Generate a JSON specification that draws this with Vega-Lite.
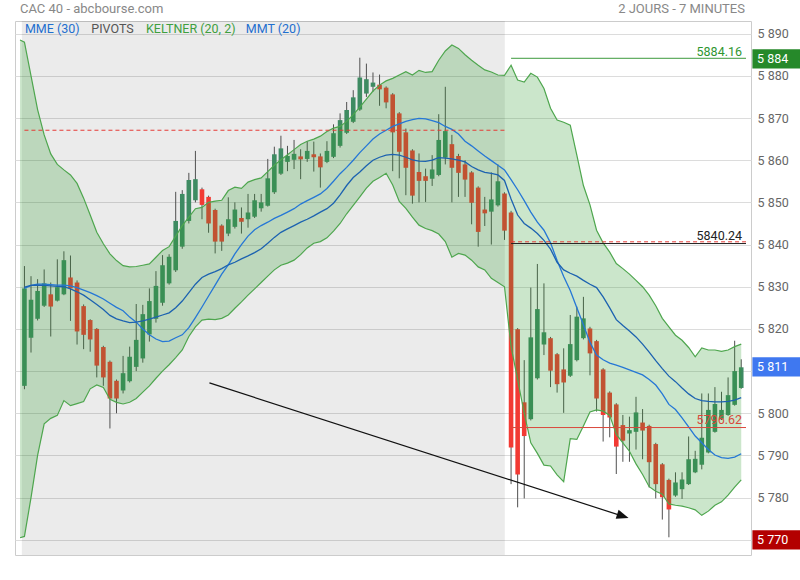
{
"$schema":"https://vega.github.io/schema/vega-lite/v6.json",
"width":736,"height":534,
"autosize":{"type":"none"},
"padding":{"left":15,"top":21,"right":49,"bottom":25},
"background":"white",
"config":{"view":{"stroke":"#cccccc"},"font":"Roboto","text":{"font":"Roboto"}},
"datasets":{"k":[
{"i":-0.67,"u":5888.5,"b":5770.5},
{"i":0,"o":5806.5,"h":5834.9,"l":5805.7,"c":5829.6,"u":5888.0,"b":5770.8,"p":5829.6,"q":5829.9},
{"i":1,"o":5817.9,"h":5832.5,"l":5814.4,"c":5826.9,"u":5880.0,"b":5780.0,"p":5830.3,"q":5830.3},
{"i":2,"o":5822.4,"h":5831.8,"l":5822.0,"c":5829.0,"u":5872.0,"b":5790.0,"p":5830.6,"q":5830.4},
{"i":3,"o":5825.5,"h":5834.1,"l":5825.2,"c":5830.8,"u":5866.0,"b":5797.5,"p":5830.6,"q":5830.3},
{"i":4,"o":5828.2,"h":5831.0,"l":5818.2,"c":5825.3,"u":5861.5,"b":5798.8,"p":5830.5,"q":5830.2},
{"i":5,"o":5826.7,"h":5836.5,"l":5826.5,"c":5829.9,"u":5859.0,"b":5799.5,"p":5830.4,"q":5830.1},
{"i":6,"o":5828.2,"h":5838.4,"l":5828.0,"c":5836.3,"u":5857.7,"b":5803.0,"p":5830.4,"q":5830.0},
{"i":7,"o":5832.2,"h":5837.4,"l":5821.9,"c":5829.6,"u":5856.5,"b":5801.8,"p":5830.2,"q":5829.5},
{"i":8,"o":5831.0,"h":5831.5,"l":5816.3,"c":5819.4,"u":5854.5,"b":5802.3,"p":5829.8,"q":5828.8},
{"i":9,"o":5825.4,"h":5825.8,"l":5815.2,"c":5818.6,"u":5851.0,"b":5802.8,"p":5829.2,"q":5828.0},
{"i":10,"o":5822.1,"h":5822.3,"l":5814.6,"c":5817.5,"u":5847.0,"b":5805.8,"p":5828.6,"q":5826.9},
{"i":11,"o":5820.0,"h":5820.2,"l":5808.5,"c":5811.3,"u":5842.9,"b":5806.7,"p":5827.9,"q":5825.8},
{"i":12,"o":5815.7,"h":5816.0,"l":5806.5,"c":5808.5,"u":5840.2,"b":5806.1,"p":5827.1,"q":5824.6},
{"i":13,"o":5812.2,"h":5812.5,"l":5796.4,"c":5803.5,"u":5837.8,"b":5803.3,"p":5826.1,"q":5823.2},
{"i":14,"o":5807.7,"h":5808.0,"l":5800.0,"c":5803.5,"u":5836.2,"b":5802.6,"p":5825.1,"q":5822.4},
{"i":15,"o":5805.4,"h":5813.6,"l":5804.7,"c":5809.5,"u":5835.0,"b":5802.2,"p":5824.3,"q":5821.9},
{"i":16,"o":5807.6,"h":5815.8,"l":5807.3,"c":5813.4,"u":5834.7,"b":5802.6,"p":5822.8,"q":5821.5},
{"i":17,"o":5811.0,"h":5825.9,"l":5810.0,"c":5817.4,"u":5834.8,"b":5803.5,"p":5821.6,"q":5821.6},
{"i":18,"o":5813.0,"h":5825.7,"l":5812.0,"c":5823.5,"u":5835.1,"b":5805.0,"p":5820.0,"q":5821.9},
{"i":19,"o":5818.7,"h":5829.6,"l":5817.0,"c":5826.6,"u":5835.4,"b":5806.5,"p":5818.6,"q":5822.3},
{"i":20,"o":5822.4,"h":5833.7,"l":5821.5,"c":5830.2,"u":5837.0,"b":5808.3,"p":5817.6,"q":5822.8},
{"i":21,"o":5826.2,"h":5837.5,"l":5825.5,"c":5835.1,"u":5838.6,"b":5810.0,"p":5817.0,"q":5823.3},
{"i":22,"o":5830.8,"h":5837.7,"l":5830.5,"c":5837.1,"u":5839.5,"b":5811.5,"p":5817.1,"q":5823.8},
{"i":23,"o":5833.9,"h":5852.5,"l":5833.5,"c":5845.6,"u":5842.0,"b":5813.2,"p":5817.9,"q":5825.0},
{"i":24,"o":5839.5,"h":5852.9,"l":5839.0,"c":5852.0,"u":5844.5,"b":5815.0,"p":5818.6,"q":5826.6},
{"i":25,"o":5845.6,"h":5857.0,"l":5845.0,"c":5855.3,"u":5846.5,"b":5818.2,"p":5820.3,"q":5828.6},
{"i":26,"o":5850.5,"h":5862.2,"l":5850.0,"c":5855.5,"u":5848.5,"b":5820.5,"p":5822.7,"q":5830.6},
{"i":27,"o":5853.1,"h":5853.5,"l":5846.0,"c":5849.4,"u":5848.8,"b":5822.1,"p":5825.2,"q":5832.2},
{"i":28,"o":5851.3,"h":5851.6,"l":5842.8,"c":5845.0,"u":5850.0,"b":5822.3,"p":5827.8,"q":5833.0},
{"i":29,"o":5848.2,"h":5848.5,"l":5837.9,"c":5840.7,"u":5850.3,"b":5822.2,"p":5830.4,"q":5833.6},
{"i":30,"o":5844.5,"h":5844.8,"l":5838.5,"c":5840.7,"u":5850.5,"b":5822.5,"p":5833.0,"q":5834.3},
{"i":31,"o":5842.6,"h":5851.2,"l":5842.0,"c":5846.0,"u":5852.8,"b":5823.3,"p":5835.2,"q":5835.2},
{"i":32,"o":5844.2,"h":5850.0,"l":5843.8,"c":5848.3,"u":5853.6,"b":5824.9,"p":5837.8,"q":5835.8},
{"i":33,"o":5846.3,"h":5848.8,"l":5842.6,"c":5845.4,"u":5853.3,"b":5826.4,"p":5840.0,"q":5836.6},
{"i":34,"o":5846.0,"h":5852.0,"l":5844.0,"c":5847.6,"u":5854.8,"b":5828.0,"p":5842.0,"q":5837.3},
{"i":35,"o":5846.6,"h":5852.0,"l":5846.3,"c":5850.5,"u":5855.4,"b":5829.5,"p":5843.5,"q":5838.1},
{"i":36,"o":5848.6,"h":5852.0,"l":5847.8,"c":5850.0,"u":5855.8,"b":5831.0,"p":5844.5,"q":5839.0},
{"i":37,"o":5849.2,"h":5860.3,"l":5849.0,"c":5855.7,"u":5857.3,"b":5832.5,"p":5845.3,"q":5840.3},
{"i":38,"o":5852.4,"h":5863.2,"l":5852.0,"c":5861.4,"u":5858.8,"b":5834.0,"p":5846.2,"q":5841.7},
{"i":39,"o":5856.8,"h":5865.8,"l":5856.5,"c":5862.8,"u":5860.1,"b":5835.1,"p":5846.9,"q":5842.9},
{"i":40,"o":5859.6,"h":5863.4,"l":5857.4,"c":5861.0,"u":5861.3,"b":5835.6,"p":5847.7,"q":5843.7},
{"i":41,"o":5860.1,"h":5864.8,"l":5857.9,"c":5861.5,"u":5862.5,"b":5836.3,"p":5848.5,"q":5844.5},
{"i":42,"o":5860.9,"h":5862.6,"l":5855.5,"c":5860.2,"u":5863.7,"b":5837.6,"p":5849.6,"q":5845.3},
{"i":43,"o":5860.3,"h":5864.5,"l":5859.6,"c":5862.2,"u":5864.5,"b":5839.2,"p":5850.4,"q":5846.0},
{"i":44,"o":5861.4,"h":5864.4,"l":5857.3,"c":5860.7,"u":5865.0,"b":5840.3,"p":5851.2,"q":5846.8},
{"i":45,"o":5860.9,"h":5861.6,"l":5853.5,"c":5858.3,"u":5865.7,"b":5840.7,"p":5852.0,"q":5847.7},
{"i":46,"o":5859.6,"h":5864.5,"l":5859.3,"c":5862.2,"u":5866.8,"b":5841.6,"p":5853.3,"q":5848.5},
{"i":47,"o":5860.8,"h":5868.5,"l":5860.5,"c":5866.4,"u":5867.6,"b":5843.2,"p":5855.0,"q":5849.8},
{"i":48,"o":5863.4,"h":5871.1,"l":5863.0,"c":5869.5,"u":5868.0,"b":5845.0,"p":5856.8,"q":5851.8},
{"i":49,"o":5866.5,"h":5873.8,"l":5866.2,"c":5871.9,"u":5869.2,"b":5847.3,"p":5858.3,"q":5854.0},
{"i":50,"o":5869.1,"h":5876.6,"l":5868.8,"c":5874.9,"u":5870.8,"b":5849.3,"p":5860.0,"q":5855.9},
{"i":51,"o":5872.0,"h":5884.3,"l":5871.7,"c":5879.6,"u":5872.6,"b":5851.3,"p":5861.8,"q":5857.2},
{"i":52,"o":5875.8,"h":5882.9,"l":5875.0,"c":5879.2,"u":5874.5,"b":5853.4,"p":5863.4,"q":5858.7},
{"i":53,"o":5877.4,"h":5880.8,"l":5876.2,"c":5878.4,"u":5876.4,"b":5855.0,"p":5865.0,"q":5860.0},
{"i":54,"o":5877.9,"h":5880.3,"l":5872.9,"c":5876.8,"u":5877.8,"b":5855.9,"p":5866.2,"q":5860.7},
{"i":55,"o":5877.2,"h":5877.5,"l":5872.3,"c":5873.7,"u":5878.8,"b":5856.9,"p":5867.1,"q":5861.2},
{"i":56,"o":5875.6,"h":5875.9,"l":5857.4,"c":5866.6,"u":5879.4,"b":5854.1,"p":5868.0,"q":5861.4},
{"i":57,"o":5871.1,"h":5871.4,"l":5855.7,"c":5862.0,"u":5880.2,"b":5850.2,"p":5868.6,"q":5861.2},
{"i":58,"o":5866.6,"h":5867.5,"l":5851.7,"c":5858.2,"u":5881.0,"b":5848.6,"p":5869.2,"q":5860.7},
{"i":59,"o":5862.3,"h":5862.6,"l":5849.7,"c":5851.6,"u":5880.2,"b":5846.5,"p":5869.6,"q":5860.1},
{"i":60,"o":5857.2,"h":5861.6,"l":5850.0,"c":5855.1,"u":5881.3,"b":5844.6,"p":5869.9,"q":5859.8},
{"i":61,"o":5856.2,"h":5858.0,"l":5850.1,"c":5855.1,"u":5880.8,"b":5843.8,"p":5869.8,"q":5859.7},
{"i":62,"o":5855.6,"h":5861.2,"l":5853.9,"c":5857.8,"u":5881.0,"b":5843.3,"p":5869.4,"q":5860.0},
{"i":63,"o":5856.5,"h":5870.9,"l":5856.2,"c":5864.8,"u":5883.7,"b":5842.5,"p":5868.9,"q":5860.6},
{"i":64,"o":5860.6,"h":5877.4,"l":5859.0,"c":5866.9,"u":5885.9,"b":5840.7,"p":5868.0,"q":5860.5},
{"i":65,"o":5863.8,"h":5866.0,"l":5850.0,"c":5858.2,"u":5887.3,"b":5837.0,"p":5867.3,"q":5860.3},
{"i":66,"o":5861.0,"h":5861.5,"l":5851.3,"c":5857.0,"u":5886.5,"b":5837.9,"p":5866.2,"q":5860.0},
{"i":67,"o":5859.0,"h":5860.0,"l":5851.3,"c":5855.4,"u":5885.0,"b":5837.5,"p":5864.5,"q":5859.6},
{"i":68,"o":5857.1,"h":5857.4,"l":5844.8,"c":5849.9,"u":5883.7,"b":5836.3,"p":5863.4,"q":5858.5},
{"i":69,"o":5853.5,"h":5853.8,"l":5839.5,"c":5843.0,"u":5882.5,"b":5834.7,"p":5862.2,"q":5857.7},
{"i":70,"o":5848.3,"h":5851.3,"l":5844.4,"c":5847.4,"u":5881.4,"b":5834.0,"p":5861.0,"q":5857.1},
{"i":71,"o":5847.8,"h":5857.1,"l":5840.0,"c":5850.7,"u":5880.9,"b":5832.0,"p":5859.9,"q":5856.9},
{"i":72,"o":5849.3,"h":5859.0,"l":5849.0,"c":5855.0,"u":5880.2,"b":5831.0,"p":5858.8,"q":5856.5},
{"i":73,"o":5852.1,"h":5852.4,"l":5841.1,"c":5843.3,"u":5880.1,"b":5830.0,"p":5857.7,"q":5855.2},
{"i":74,"o":5847.6,"h":5848.0,"l":5783.2,"c":5791.9,"u":5882.5,"b":5815.8,"p":5855.4,"q":5850.8},
{"i":75,"o":5819.9,"h":5820.2,"l":5777.7,"c":5785.5,"u":5879.0,"b":5808.0,"p":5853.0,"q":5847.0},
{"i":76,"o":5802.6,"h":5812.6,"l":5779.8,"c":5794.6,"u":5878.5,"b":5800.0,"p":5850.4,"q":5845.0},
{"i":77,"o":5798.6,"h":5829.8,"l":5798.3,"c":5818.0,"u":5880.6,"b":5793.0,"p":5847.7,"q":5843.9},
{"i":78,"o":5808.3,"h":5835.4,"l":5808.0,"c":5824.7,"u":5879.7,"b":5790.5,"p":5845.3,"q":5842.6},
{"i":79,"o":5816.3,"h":5830.8,"l":5813.8,"c":5819.2,"u":5877.0,"b":5787.7,"p":5843.4,"q":5841.0},
{"i":80,"o":5817.8,"h":5818.1,"l":5806.2,"c":5810.1,"u":5872.3,"b":5787.5,"p":5840.4,"q":5838.9},
{"i":81,"o":5814.0,"h":5814.3,"l":5804.9,"c":5806.9,"u":5869.5,"b":5785.4,"p":5836.2,"q":5835.8},
{"i":82,"o":5810.4,"h":5815.4,"l":5800.1,"c":5807.3,"u":5869.0,"b":5783.8,"p":5832.4,"q":5834.0},
{"i":83,"o":5808.9,"h":5823.3,"l":5808.6,"c":5816.4,"u":5868.3,"b":5794.0,"p":5829.1,"q":5833.2},
{"i":84,"o":5812.6,"h":5825.3,"l":5812.3,"c":5822.9,"u":5861.2,"b":5793.8,"p":5825.0,"q":5832.5},
{"i":85,"o":5817.8,"h":5827.6,"l":5817.5,"c":5822.5,"u":5854.0,"b":5797.0,"p":5821.0,"q":5831.5},
{"i":86,"o":5820.1,"h":5820.5,"l":5809.0,"c":5814.2,"u":5849.4,"b":5800.3,"p":5816.8,"q":5830.6},
{"i":87,"o":5817.1,"h":5817.4,"l":5800.4,"c":5803.5,"u":5843.4,"b":5800.8,"p":5813.8,"q":5829.8},
{"i":88,"o":5810.4,"h":5810.7,"l":5793.3,"c":5799.6,"u":5840.4,"b":5800.5,"p":5812.7,"q":5827.6},
{"i":89,"o":5804.9,"h":5805.2,"l":5794.3,"c":5799.0,"u":5838.2,"b":5799.5,"p":5811.9,"q":5825.0},
{"i":90,"o":5802.1,"h":5802.4,"l":5785.6,"c":5792.1,"u":5835.5,"b":5795.0,"p":5811.4,"q":5822.2},
{"i":91,"o":5797.2,"h":5799.6,"l":5788.5,"c":5793.5,"u":5834.3,"b":5793.0,"p":5810.9,"q":5820.8},
{"i":92,"o":5795.2,"h":5799.2,"l":5788.5,"c":5796.0,"u":5833.0,"b":5791.0,"p":5810.3,"q":5819.5},
{"i":93,"o":5795.6,"h":5803.9,"l":5791.4,"c":5800.2,"u":5831.5,"b":5788.0,"p":5809.7,"q":5818.1},
{"i":94,"o":5797.8,"h":5801.0,"l":5789.1,"c":5795.9,"u":5830.0,"b":5785.5,"p":5809.1,"q":5816.4},
{"i":95,"o":5797.0,"h":5797.3,"l":5782.4,"c":5788.4,"u":5828.0,"b":5782.6,"p":5808.0,"q":5814.5},
{"i":96,"o":5792.7,"h":5793.0,"l":5779.8,"c":5783.2,"u":5825.5,"b":5781.5,"p":5806.7,"q":5812.5},
{"i":97,"o":5787.9,"h":5788.2,"l":5774.8,"c":5780.1,"u":5822.5,"b":5780.8,"p":5804.6,"q":5810.6},
{"i":98,"o":5784.2,"h":5784.5,"l":5770.6,"c":5777.2,"u":5820.5,"b":5778.5,"p":5802.1,"q":5808.8},
{"i":99,"o":5780.5,"h":5786.0,"l":5780.2,"c":5783.6,"u":5818.5,"b":5778.2,"p":5800.9,"q":5807.5},
{"i":100,"o":5782.0,"h":5786.0,"l":5779.7,"c":5784.3,"u":5817.3,"b":5778.0,"p":5798.9,"q":5806.0},
{"i":101,"o":5783.2,"h":5794.5,"l":5783.0,"c":5789.1,"u":5815.6,"b":5777.6,"p":5796.8,"q":5804.6},
{"i":102,"o":5786.0,"h":5791.1,"l":5785.8,"c":5789.2,"u":5813.4,"b":5777.1,"p":5794.6,"q":5803.5},
{"i":103,"o":5787.8,"h":5804.7,"l":5786.7,"c":5794.2,"u":5815.5,"b":5775.8,"p":5793.0,"q":5803.0},
{"i":104,"o":5790.7,"h":5804.7,"l":5790.5,"c":5800.8,"u":5815.0,"b":5776.8,"p":5791.4,"q":5802.8},
{"i":105,"o":5795.6,"h":5806.2,"l":5795.4,"c":5802.2,"u":5815.0,"b":5778.2,"p":5790.1,"q":5802.7},
{"i":106,"o":5798.6,"h":5805.1,"l":5798.4,"c":5800.8,"u":5814.7,"b":5779.0,"p":5789.5,"q":5802.7},
{"i":107,"o":5799.6,"h":5808.5,"l":5799.4,"c":5804.3,"u":5815.0,"b":5780.6,"p":5789.3,"q":5802.8},
{"i":108,"o":5802.0,"h":5817.2,"l":5801.8,"c":5810.0,"u":5815.8,"b":5782.5,"p":5789.6,"q":5803.1},
{"i":109,"o":5806.0,"h":5812.8,"l":5805.8,"c":5810.9,"u":5816.4,"b":5784.2,"p":5790.4,"q":5803.7}
]},
"layer":[
{"data":{"values":[{}]},"mark":{"type":"rect","fill":"#000000","fillOpacity":0.078},
 "encoding":{"x":{"datum":-0.4,"type":"quantitative","scale":{"domain":[-0.675,109.725],"nice":false,"zero":false},"axis":null},"x2":{"datum":73.05}}},
{"data":{"name":"k"},"mark":{"type":"rule","color":"#505050","strokeWidth":1},
 "encoding":{
  "x":{"field":"i","type":"quantitative","title":null,"scale":{"domain":[-0.675,109.725],"nice":false,"zero":false},
   "axis":{"values":[12,24,36,48,60,72,84,96,108],"labelExpr":"['10:24','11:48','13:12','14:36','16:00','17:24','10:10','11:34','12:58'][round(datum.value/12)-1]","grid":true,"gridColor":"#dcdcdc","ticks":false,"domain":false,"labelFont":"Roboto","labelFontSize":12,"labelColor":"#666666","labelPadding":9,"labelOffset":-2,"title":null}},
  "y":{"field":"l","type":"quantitative","title":null,"scale":{"domain":[5766.4,5893.0],"nice":false,"zero":false},
   "axis":{"orient":"right","values":[5770,5780,5790,5800,5810,5820,5830,5840,5850,5860,5870,5880,5890],"labelExpr":"(datum.value == 5810 || datum.value == 5770) ? '' : replace(format(datum.value, ','), ',', ' ')","grid":true,"gridColor":"#dcdcdc","ticks":false,"domain":false,"labelFont":"Roboto","labelFontSize":12.5,"labelColor":"#666666","labelPadding":6,"labelAlign":"left","title":null}},
  "y2":{"field":"h"}}},
{"data":{"name":"k"},"mark":{"type":"bar","width":4.6},
 "encoding":{
  "x":{"field":"i","type":"quantitative","title":null,"scale":{"domain":[-0.675,109.725],"nice":false,"zero":false}},
  "y":{"field":"o","type":"quantitative","title":null,"scale":{"domain":[5766.4,5893.0],"nice":false,"zero":false}},
  "y2":{"field":"c"},
  "color":{"condition":{"test":"datum.c >= datum.o","value":"#3e8b62"},"value":"#f23a33"}}},
{"data":{"name":"k"},"mark":{"type":"area","color":"#2e9a2e","opacity":0.25},
 "encoding":{
  "x":{"field":"i","type":"quantitative","title":null,"scale":{"domain":[-0.675,109.725],"nice":false,"zero":false}},
  "y":{"field":"u","type":"quantitative","title":null,"scale":{"domain":[5766.4,5893.0],"nice":false,"zero":false}},
  "y2":{"field":"b"}}},
{"data":{"name":"k"},"mark":{"type":"line","color":"#4ea64e","strokeWidth":1.2},
 "encoding":{
  "x":{"field":"i","type":"quantitative","title":null,"scale":{"domain":[-0.675,109.725],"nice":false,"zero":false}},
  "y":{"field":"u","type":"quantitative","title":null,"scale":{"domain":[5766.4,5893.0],"nice":false,"zero":false}}}},
{"data":{"name":"k"},"mark":{"type":"line","color":"#4ea64e","strokeWidth":1.2},
 "encoding":{
  "x":{"field":"i","type":"quantitative","title":null,"scale":{"domain":[-0.675,109.725],"nice":false,"zero":false}},
  "y":{"field":"b","type":"quantitative","title":null,"scale":{"domain":[5766.4,5893.0],"nice":false,"zero":false}}}},
{"data":{"name":"k"},"mark":{"type":"line","color":"#2577d6","strokeWidth":1.3},
 "encoding":{
  "x":{"field":"i","type":"quantitative","title":null,"scale":{"domain":[-0.675,109.725],"nice":false,"zero":false}},
  "y":{"field":"p","type":"quantitative","title":null,"scale":{"domain":[5766.4,5893.0],"nice":false,"zero":false}}}},
{"data":{"name":"k"},"mark":{"type":"line","color":"#1c62b0","strokeWidth":1.3},
 "encoding":{
  "x":{"field":"i","type":"quantitative","title":null,"scale":{"domain":[-0.675,109.725],"nice":false,"zero":false}},
  "y":{"field":"q","type":"quantitative","title":null,"scale":{"domain":[5766.4,5893.0],"nice":false,"zero":false}}}},
{"data":{"values":[{}]},"mark":{"type":"rule","color":"#e53935","strokeWidth":1,"strokeDash":[4,3]},
 "encoding":{"x":{"datum":0,"type":"quantitative"},"x2":{"datum":73.05},"y":{"datum":5867.1,"type":"quantitative"}}},
{"data":{"values":[{}]},"mark":{"type":"rule","color":"#e53935","strokeWidth":1,"strokeDash":[4,3]},
 "encoding":{"x":{"datum":74,"type":"quantitative"},"x2":{"datum":109.725},"y":{"datum":5840.65,"type":"quantitative"}}},
{"data":{"values":[{}]},"mark":{"type":"rule","color":"#222222","strokeWidth":1},
 "encoding":{"x":{"datum":74,"type":"quantitative"},"x2":{"datum":109.725},"y":{"datum":5840.24,"type":"quantitative"}}},
{"data":{"values":[{}]},"mark":{"type":"rule","color":"#3c9a3c","strokeWidth":1},
 "encoding":{"x":{"datum":74,"type":"quantitative"},"x2":{"datum":109.725},"y":{"datum":5884.16,"type":"quantitative"}}},
{"data":{"values":[{}]},"mark":{"type":"rule","color":"#d9483b","strokeWidth":1},
 "encoding":{"x":{"datum":74,"type":"quantitative"},"x2":{"datum":109.725},"y":{"datum":5796.62,"type":"quantitative"}}},
{"data":{"values":[{}]},"mark":{"type":"text","text":"5884.16","align":"right","baseline":"alphabetic","fontSize":12.5,"color":"#2f962f"},
 "encoding":{"x":{"datum":109.12,"type":"quantitative"},"y":{"datum":5884.8,"type":"quantitative"}}},
{"data":{"values":[{}]},"mark":{"type":"text","text":"5840.24","align":"right","baseline":"alphabetic","fontSize":12.5,"color":"#222222"},
 "encoding":{"x":{"datum":109.12,"type":"quantitative"},"y":{"datum":5841.1,"type":"quantitative"}}},
{"data":{"values":[{}]},"mark":{"type":"text","text":"5796.62","align":"right","baseline":"alphabetic","fontSize":12.5,"color":"#d9483b"},
 "encoding":{"x":{"datum":109.12,"type":"quantitative"},"y":{"datum":5797.5,"type":"quantitative"}}},
{"data":{"values":[{}]},"mark":{"type":"rule","color":"#111111","strokeWidth":1.2},
 "encoding":{"x":{"datum":28.13,"type":"quantitative"},"x2":{"datum":91.2},"y":{"datum":5807.2,"type":"quantitative"},"y2":{"datum":5775.5}}},
{"data":{"values":[{}]},"mark":{"type":"point","shape":"M0,0L-2,-0.8L-2,0.8Z","size":144,"filled":true,"color":"#111111","opacity":1,"angle":17.6},
 "encoding":{"x":{"datum":91.87,"type":"quantitative"},"y":{"datum":5775.19,"type":"quantitative"}}},
{"data":{"values":[{"v":5884,"t":"5 884","col":"g"},{"v":5811,"t":"5 811","col":"b"},{"v":5770,"t":"5 770","col":"r"}]},
 "mark":{"type":"point","shape":"M-1,-0.4H1V0.4H-1Z","size":2304,"filled":true,"opacity":1,"xOffset":25.4},
 "encoding":{"x":{"value":"width"},"y":{"field":"v","type":"quantitative","title":null,"scale":{"domain":[5766.4,5893.0],"nice":false,"zero":false}},
  "color":{"field":"col","type":"nominal","scale":{"domain":["g","b","r"],"range":["#26892a","#3f78f0","#b30000"]},"legend":null}}},
{"data":{"values":[{"v":5884,"t":"5 884"},{"v":5811,"t":"5 811"},{"v":5770,"t":"5 770"}]},
 "mark":{"type":"text","align":"left","baseline":"middle","fontSize":12.5,"color":"#ffffff","xOffset":6},
 "encoding":{"x":{"value":"width"},"y":{"field":"v","type":"quantitative","title":null,"scale":{"domain":[5766.4,5893.0],"nice":false,"zero":false}},"text":{"field":"t"}}},
{"data":{"values":[{}]},"mark":{"type":"text","text":"CAC 40 - abcbourse.com","align":"left","baseline":"alphabetic","fontSize":13,"color":"#888888"},
 "encoding":{"x":{"datum":-0.675,"type":"quantitative"},"y":{"datum":5894.95,"type":"quantitative"}}},
{"data":{"values":[{}]},"mark":{"type":"text","text":"2 JOURS - 7 MINUTES","align":"right","baseline":"alphabetic","fontSize":13,"color":"#888888"},
 "encoding":{"x":{"datum":109.57,"type":"quantitative"},"y":{"datum":5894.95,"type":"quantitative"}}},
{"data":{"values":[{}]},"mark":{"type":"text","text":"MME (30)","align":"left","baseline":"alphabetic","fontSize":12.5,"color":"#1f6fcf"},
 "encoding":{"x":{"datum":0.07,"type":"quantitative"},"y":{"datum":5890.05,"type":"quantitative"}}},
{"data":{"values":[{}]},"mark":{"type":"text","text":"PIVOTS","align":"left","baseline":"alphabetic","fontSize":12.5,"color":"#555555"},
 "encoding":{"x":{"datum":10.17,"type":"quantitative"},"y":{"datum":5890.05,"type":"quantitative"}}},
{"data":{"values":[{}]},"mark":{"type":"text","text":"KELTNER (20, 2)","align":"left","baseline":"alphabetic","fontSize":12.5,"color":"#3f9f3f"},
 "encoding":{"x":{"datum":18.48,"type":"quantitative"},"y":{"datum":5890.05,"type":"quantitative"}}},
{"data":{"values":[{}]},"mark":{"type":"text","text":"MMT (20)","align":"left","baseline":"alphabetic","fontSize":12.5,"color":"#1f6fcf"},
 "encoding":{"x":{"datum":33.67,"type":"quantitative"},"y":{"datum":5890.05,"type":"quantitative"}}}
]
}
